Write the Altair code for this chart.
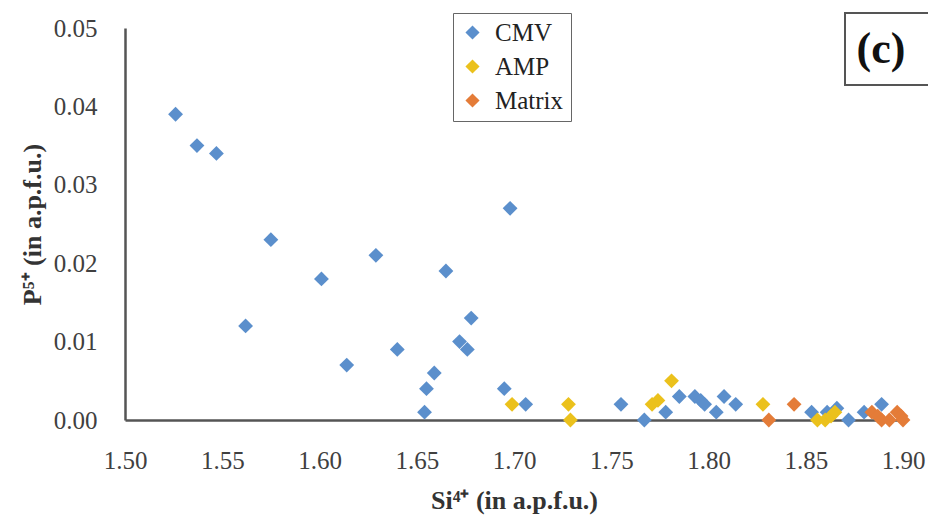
import altair as alt
import pandas as pd

# Si4+ vs P5+ (a.p.f.u.) for three textural groups
cmv_si = [1.526, 1.537, 1.547, 1.562, 1.575, 1.601, 1.614, 1.629, 1.640, 1.654,
          1.655, 1.659, 1.665, 1.672, 1.676, 1.678, 1.695, 1.698, 1.706, 1.755,
          1.767, 1.778, 1.785, 1.793, 1.796, 1.798, 1.804, 1.808, 1.814, 1.853,
          1.861, 1.866, 1.872, 1.880, 1.889]
cmv_p = [0.039, 0.035, 0.034, 0.012, 0.023, 0.018, 0.007, 0.021, 0.009, 0.001,
         0.004, 0.006, 0.019, 0.010, 0.009, 0.013, 0.004, 0.027, 0.002, 0.002,
         0.000, 0.001, 0.003, 0.003, 0.0025, 0.002, 0.001, 0.003, 0.002, 0.001,
         0.001, 0.0015, 0.000, 0.001, 0.002]

amp_si = [1.699, 1.728, 1.729, 1.771, 1.774, 1.781, 1.828, 1.856, 1.860, 1.863, 1.865]
amp_p = [0.002, 0.002, 0.000, 0.002, 0.0025, 0.005, 0.002, 0.000, 0.000, 0.0005, 0.001]

mat_si = [1.831, 1.844, 1.884, 1.887, 1.889, 1.893, 1.897, 1.899, 1.900]
mat_p = [0.000, 0.002, 0.001, 0.0005, 0.000, 0.000, 0.001, 0.0005, 0.000]

groups = ["CMV", "AMP", "Matrix"]
colors = ["#5B8FCC", "#EBC11C", "#E47C38"]

rows = []
for name, xs, ys in [("CMV", cmv_si, cmv_p), ("AMP", amp_si, amp_p), ("Matrix", mat_si, mat_p)]:
    for xv, yv in zip(xs, ys):
        rows.append({"Si": xv, "P": yv, "group": name})
df = pd.DataFrame(rows)

serif = "Liberation Serif"

points = alt.Chart(df).mark_point(shape="diamond", filled=True, size=220, opacity=1).encode(
    x=alt.X("Si:Q",
            scale=alt.Scale(domain=[1.5, 1.9], nice=False),
            axis=alt.Axis(title="Si⁴⁺ (in a.p.f.u.)", values=[1.5, 1.55, 1.6, 1.65, 1.7, 1.75, 1.8, 1.85, 1.9],
                          format=".2f", grid=False, ticks=False, domainColor="#555555", domainWidth=2.5,
                          labelFlush=False, labelOverlap=False,
                          labelFont=serif, labelFontSize=25, labelColor="#404040", labelPadding=28,
                          titleFont=serif, titleFontSize=26, titleFontWeight="bold", titleColor="#333333",
                          titlePadding=14)),
    y=alt.Y("P:Q",
            scale=alt.Scale(domain=[0, 0.05], nice=False),
            axis=alt.Axis(title="P⁵⁺ (in a.p.f.u.)", values=[0, 0.01, 0.02, 0.03, 0.04, 0.05],
                          format=".2f", grid=False, ticks=False, domainColor="#555555", domainWidth=2.5,
                          labelFlush=False, labelOverlap=False,
                          labelFont=serif, labelFontSize=25, labelColor="#404040", labelPadding=28,
                          titleFont=serif, titleFontSize=26, titleFontWeight="bold", titleColor="#333333",
                          titlePadding=8)),
    color=alt.Color("group:N", scale=alt.Scale(domain=groups, range=colors),
                    legend=alt.Legend(title=None, orient="none", legendX=328, legendY=-15,
                                      symbolType="diamond", symbolSize=200, symbolStrokeWidth=0,
                                      labelFont=serif, labelFontSize=25, labelColor="#222222",
                                      rowPadding=8, padding=7, strokeColor="#666666",
                                      fillColor="white", labelOffset=10)),
    order=alt.Order("ord:Q"),
).transform_calculate(
    ord="datum.group === 'CMV' ? 0 : (datum.group === 'AMP' ? 1 : 2)"
)

# panel tag "(c)" in a framed box at top right
tag_box = alt.Chart(pd.DataFrame({"t": ["(c)"]})).mark_rect(
    fill="white", stroke="#555555", strokeWidth=2
).encode(x=alt.value(720), x2=alt.value(815), y=alt.value(-15), y2=alt.value(57))

tag_text = alt.Chart(pd.DataFrame({"t": ["(c)"]})).mark_text(
    font=serif, fontSize=44, fontWeight="bold", color="#111111", align="center", baseline="middle"
).encode(x=alt.value(756), y=alt.value(22), text="t:N")

chart = alt.layer(points, tag_box, tag_text).properties(
    width=778, height=392,
    autosize=alt.AutoSizeParams(type="none"),
    padding={"left": 125, "top": 28, "right": 25, "bottom": 102},
    background="white",
).configure_view(stroke=None)

chart.save("out.html", embed_options={"renderer": "svg", "actions": False})
